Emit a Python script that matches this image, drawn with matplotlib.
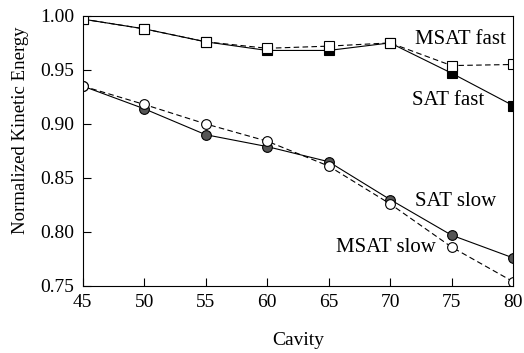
import matplotlib.pyplot as plt
from matplotlib import rcParams as rc
import numpy as np

cavity = [45, 50, 55, 60, 65, 70, 75, 80]

msat_fast = [0.997, 0.988, 0.976, 0.970, 0.972, 0.975, 0.954, 0.955]
sat_fast = [0.997, 0.988, 0.976, 0.968, 0.968, 0.975, 0.947, 0.917]
sat_slow = [0.935, 0.914, 0.890, 0.879, 0.865, 0.830, 0.797, 0.776]
msat_slow = [0.935, 0.918, 0.900, 0.884, 0.861, 0.826, 0.786, 0.754]

rc['font.family'] = 'serif'
rc['font.serif'] = ['Liberation Serif', 'DejaVu Serif']
rc['font.size'] = 14

fig = plt.figure(figsize=(5.24, 3.53), dpi=100)
ax = fig.add_axes([0.158, 0.19, 0.821, 0.765])

dash = (0, (5, 3))
ax.plot(cavity, sat_fast, '-', color='black', lw=0.8, marker='s', ms=7,
        mfc='black', mec='black', mew=0.8)
ax.plot(cavity, msat_fast, linestyle=dash, color='black', lw=0.8, marker='s', ms=7,
        mfc='white', mec='black', mew=0.8)
ax.plot(cavity, sat_slow, '-', color='black', lw=0.8, marker='o', ms=7,
        mfc='#555555', mec='black', mew=0.8)
ax.plot(cavity, msat_slow, linestyle=dash, color='black', lw=0.8, marker='o', ms=7,
        mfc='white', mec='black', mew=0.8)

ax.text(75.7, 0.978, 'MSAT fast', ha='center', va='center', fontsize=15)
ax.text(74.7, 0.922, 'SAT fast', ha='center', va='center', fontsize=15)
ax.text(75.3, 0.828, 'SAT slow', ha='center', va='center', fontsize=15)
ax.text(69.7, 0.786, 'MSAT slow', ha='center', va='center', fontsize=15)

ax.set_xlim(45, 80)
ax.set_ylim(0.75, 1.00)
ax.set_xticks(np.arange(45, 81, 5))
ax.set_yticks(np.arange(0.75, 1.001, 0.05))
ax.set_yticklabels(['%.2f' % v for v in np.arange(0.75, 1.001, 0.05)])
ax.tick_params(direction='in', length=6, width=0.8, pad=6)
for s in ax.spines.values():
    s.set_linewidth(0.8)

ax.set_xlabel('Cavity', labelpad=15)
ax.set_ylabel('Normalized Kinetic Energy', fontsize=13.5)
ax.yaxis.set_label_coords(-0.125, 0.575)

plt.savefig('out.png', dpi=100)
